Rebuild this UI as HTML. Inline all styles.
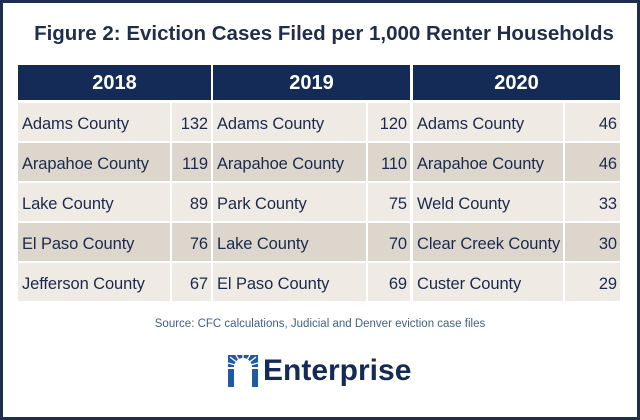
<!DOCTYPE html>
<html><head><style>
*{margin:0;padding:0;box-sizing:border-box}
body{width:640px;height:420px;background:#fff;position:relative;overflow:hidden;font-family:"Liberation Sans",sans-serif}
.frame{position:absolute;left:0;top:0;width:640px;height:420px;border:3px solid #1f2d4e}
.t{position:absolute;left:4px;width:640px;top:22px;text-align:center;font-weight:bold;font-size:20.5px;color:#1f2d4e}
.h{position:absolute;top:65px;height:35px;background:#142a57;color:#fff;font-weight:bold;font-size:20px;text-align:center;line-height:36px}
.c{position:absolute;height:38px;line-height:43px;font-size:16.5px;color:#1b2a4a;padding-left:4px;white-space:nowrap;letter-spacing:-0.1px}
.n{text-align:right;padding-right:3px;padding-left:0}
.l{background:#efebe4}.d{background:#ddd6cd}
.src{position:absolute;top:318px;width:640px;text-align:center;font-size:11.5px;color:#3f5f8f}
.logo{position:absolute;top:354px;left:228px;font-weight:bold;font-size:30px;color:#142a57;display:flex;align-items:center}
</style></head><body>
<div class="frame"></div>
<div class="t">Figure 2: Eviction Cases Filed per 1,000 Renter Households</div>
<div class="h" style="left:18px;width:193px">2018</div>
<div class="h" style="left:213px;width:197px">2019</div>
<div class="h" style="left:413px;width:207px">2020</div>
<div id="rows"></div>
<script>
var d=[["Adams County",132,"Adams County",120,"Adams County",46],["Arapahoe County",119,"Arapahoe County",110,"Arapahoe County",46],["Lake County",89,"Park County",75,"Weld County",33],["El Paso County",76,"Lake County",70,"Clear Creek County",30],["Jefferson County",67,"El Paso County",69,"Custer County",29]];
var cols=[[18,152],[172,39],[213,153],[368,42],[413,150],[565,55]];
var h="";
d.forEach(function(r,i){var y=103+i*40,cl=i%2?"d":"l";
r.forEach(function(v,j){h+='<div class="c '+cl+(j%2?' n':'')+'" style="top:'+y+'px;left:'+cols[j][0]+'px;width:'+cols[j][1]+'px">'+v+'</div>';});});
document.getElementById("rows").innerHTML=h;
</script>
<div class="src">Source: CFC calculations, Judicial and Denver eviction case files</div>
<div class="logo"><svg width="30" height="32" viewBox="0 0 30 32" style="margin-right:5px"><g fill="#1f5aa8"><rect x="0" y="14" width="6" height="18"/><rect x="24" y="14" width="6" height="18"/><path d="M0 12 L0 0 L30 0 L30 12 L24 12 A9 9 0 0 0 6 12 Z"/></g><g stroke="#fff" stroke-width="1.3"><line x1="15" y1="12" x2="15" y2="0"/><line x1="15" y1="12" x2="8" y2="0"/><line x1="15" y1="12" x2="22" y2="0"/><line x1="15" y1="12" x2="2" y2="2"/><line x1="15" y1="12" x2="28" y2="2"/><line x1="15" y1="12" x2="0" y2="8"/><line x1="15" y1="12" x2="30" y2="8"/></g></svg>Enterprise</div>
</body></html>
